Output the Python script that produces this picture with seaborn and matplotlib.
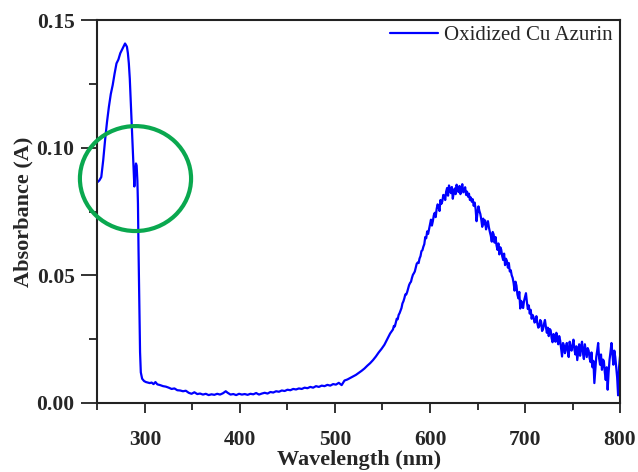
import matplotlib
matplotlib.use("Agg")
import matplotlib.pyplot as plt
from matplotlib.ticker import MultipleLocator, FormatStrFormatter
from matplotlib.patches import Ellipse
import seaborn as sns
import pandas as pd

# UV band and baseline (250-558 nm)
wl_uv = [
    250, 252, 254, 256, 258, 260, 262, 264, 266, 268, 270, 272, 274, 276, 278, 279, 280, 281, 282, 283,
    284, 285, 286, 287, 288, 288.8, 289.5, 290.5, 291.2, 292, 292.6, 293.2, 294, 294.8, 295.6, 297, 299, 301,
    303, 305, 307, 309, 311, 313, 316, 319, 322, 325, 328, 331, 334, 337, 340, 343, 346, 349, 352, 355,
    358, 361, 364, 367, 370, 373, 376, 379, 382, 385, 387, 390, 393, 396, 399, 402, 405, 408, 411, 414,
    417, 420, 423, 426, 429, 432, 435, 438, 441, 444, 447, 450, 453, 456, 459, 462, 465, 468, 471, 474,
    477, 480, 483, 486, 489, 492, 495, 498, 501, 504, 507, 510, 513, 516, 519, 522, 525, 528, 531, 534,
    537, 540, 543, 546, 549, 552, 555, 558,
]
abs_uv = [
    0.0865, 0.0872, 0.0885, 0.0950, 0.1030, 0.1100, 0.1160, 0.1210, 0.1245, 0.1290, 0.1330, 0.1345, 0.1370, 0.1385, 0.1400, 0.1408, 0.1402, 0.1395, 0.1370, 0.1330,
    0.1270, 0.1180, 0.1080, 0.0990, 0.0920, 0.0848, 0.0900, 0.0938, 0.0930, 0.0870, 0.0780, 0.0600, 0.0400, 0.0200, 0.0120, 0.0095, 0.0086, 0.0082,
    0.0080, 0.0078, 0.0080, 0.0074, 0.0082, 0.0073, 0.0070, 0.0066, 0.0064, 0.0060, 0.0055, 0.0057, 0.0050, 0.0049, 0.0046, 0.0048, 0.0040, 0.0036, 0.0042, 0.0035,
    0.0037, 0.0033, 0.0036, 0.0031, 0.0034, 0.0032, 0.0036, 0.0033, 0.0038, 0.0046, 0.0040, 0.0033, 0.0035, 0.0031, 0.0036, 0.0033, 0.0035, 0.0032, 0.0036, 0.0034,
    0.0039, 0.0033, 0.0037, 0.0040, 0.0037, 0.0043, 0.0041, 0.0046, 0.0044, 0.0049, 0.0047, 0.0052, 0.0050, 0.0055, 0.0053, 0.0057, 0.0055, 0.0060, 0.0058, 0.0063,
    0.0060, 0.0066, 0.0063, 0.0068, 0.0066, 0.0071, 0.0068, 0.0074, 0.0072, 0.0079, 0.0070, 0.0088, 0.0092, 0.0098, 0.0104, 0.0110, 0.0118, 0.0126, 0.0135, 0.0146,
    0.0156, 0.0168, 0.0182, 0.0198, 0.0212, 0.0228, 0.0250, 0.0272,
]

# Visible Cu band (561-800 nm, 1 nm steps)
wl_vis = [
    561, 562, 563, 564, 565, 566, 567, 568, 569, 570, 571, 572, 573, 574, 575, 576, 577, 578, 579, 580,
    581, 582, 583, 584, 585, 586, 587, 588, 589, 590, 591, 592, 593, 594, 595, 596, 597, 598, 599, 600,
    601, 602, 603, 604, 605, 606, 607, 608, 609, 610, 611, 612, 613, 614, 615, 616, 617, 618, 619, 620,
    621, 622, 623, 624, 625, 626, 627, 628, 629, 630, 631, 632, 633, 634, 635, 636, 637, 638, 639, 640,
    641, 642, 643, 644, 645, 646, 647, 648, 649, 650, 651, 652, 653, 654, 655, 656, 657, 658, 659, 660,
    661, 662, 663, 664, 665, 666, 667, 668, 669, 670, 671, 672, 673, 674, 675, 676, 677, 678, 679, 680,
    681, 682, 683, 684, 685, 686, 687, 688, 689, 690, 691, 692, 693, 694, 695, 696, 697, 698, 699, 700,
    701, 702, 703, 704, 705, 706, 707, 708, 709, 710, 711, 712, 713, 714, 715, 716, 717, 718, 719, 720,
    721, 722, 723, 724, 725, 726, 727, 728, 729, 730, 731, 732, 733, 734, 735, 736, 737, 738, 739, 740,
    741, 742, 743, 744, 745, 746, 747, 748, 749, 750, 751, 752, 753, 754, 755, 756, 757, 758, 759, 760,
    761, 762, 763, 764, 765, 766, 767, 768, 769, 770, 771, 772, 773, 774, 775, 776, 777, 778, 779, 780,
    781, 782, 783, 784, 785, 786, 787, 788, 789, 790, 791, 792, 793, 794, 795, 796, 797, 798, 799, 800,
]
abs_vis = [
    0.0288, 0.0302, 0.0300, 0.0315, 0.0330, 0.0328, 0.0345, 0.0352, 0.0362, 0.0372, 0.0390, 0.0398, 0.0410, 0.0425, 0.0425, 0.0435, 0.0448, 0.0462, 0.0470, 0.0475,
    0.0490, 0.0502, 0.0508, 0.0515, 0.0530, 0.0545, 0.0550, 0.0548, 0.0566, 0.0575, 0.0595, 0.0598, 0.0612, 0.0622, 0.0650, 0.0645, 0.0672, 0.0662, 0.0680, 0.0700,
    0.0718, 0.0695, 0.0712, 0.0735, 0.0745, 0.0728, 0.0760, 0.0778, 0.0770, 0.0752, 0.0795, 0.0780, 0.0790, 0.0815, 0.0812, 0.0795, 0.0828, 0.0842, 0.0812, 0.0852,
    0.0838, 0.0822, 0.0846, 0.0800, 0.0825, 0.0840, 0.0818, 0.0855, 0.0835, 0.0826, 0.0850, 0.0818, 0.0840, 0.0857, 0.0825, 0.0832, 0.0845, 0.0815, 0.0828, 0.0808,
    0.0820, 0.0795, 0.0805, 0.0788, 0.0798, 0.0772, 0.0785, 0.0760, 0.0712, 0.0745, 0.0770, 0.0752, 0.0740, 0.0718, 0.0690, 0.0722, 0.0700, 0.0715, 0.0680, 0.0698,
    0.0712, 0.0688, 0.0670, 0.0655, 0.0632, 0.0670, 0.0660, 0.0628, 0.0650, 0.0618, 0.0600, 0.0625, 0.0582, 0.0610, 0.0600, 0.0575, 0.0560, 0.0585, 0.0540, 0.0565,
    0.0556, 0.0530, 0.0548, 0.0515, 0.0520, 0.0500, 0.0490, 0.0470, 0.0440, 0.0475, 0.0460, 0.0425, 0.0410, 0.0435, 0.0370, 0.0400, 0.0385, 0.0372, 0.0400, 0.0415,
    0.0430, 0.0395, 0.0368, 0.0382, 0.0350, 0.0365, 0.0330, 0.0345, 0.0336, 0.0315, 0.0320, 0.0340, 0.0312, 0.0295, 0.0300, 0.0325, 0.0318, 0.0282, 0.0290, 0.0310,
    0.0325, 0.0298, 0.0275, 0.0295, 0.0262, 0.0290, 0.0285, 0.0255, 0.0238, 0.0270, 0.0265, 0.0240, 0.0275, 0.0250, 0.0230, 0.0262, 0.0245, 0.0215, 0.0182, 0.0235,
    0.0225, 0.0195, 0.0218, 0.0235, 0.0202, 0.0180, 0.0240, 0.0215, 0.0205, 0.0228, 0.0248, 0.0210, 0.0190, 0.0222, 0.0168, 0.0200, 0.0230, 0.0185, 0.0220, 0.0240,
    0.0195, 0.0172, 0.0230, 0.0205, 0.0180, 0.0215, 0.0205, 0.0175, 0.0160, 0.0198, 0.0140, 0.0165, 0.0078, 0.0130, 0.0180, 0.0205, 0.0235, 0.0175, 0.0150, 0.0190,
    0.0130, 0.0170, 0.0165, 0.0120, 0.0090, 0.0140, 0.0052, 0.0120, 0.0170, 0.0200, 0.0235, 0.0190, 0.0150, 0.0205, 0.0180, 0.0140, 0.0100, 0.0030, 0.0140, 0.0182,
]

series_label = "Oxidized Cu Azurin"
x_label = "Wavelength (nm)"
y_label = "Absorbance (A)"

df = pd.DataFrame({"wavelength": wl_uv + wl_vis, "absorbance": abs_uv + abs_vis})

sns.set_style("ticks")
plt.rcParams["font.family"] = ["Liberation Serif", "DejaVu Serif"]

fig = plt.figure(figsize=(6.38, 4.72), dpi=100)
ax = fig.add_axes([0.1528, 0.1462, 0.8190, 0.8114])

sns.lineplot(data=df, x="wavelength", y="absorbance", ax=ax, color="#0000ff",
             linewidth=1.6, estimator=None, sort=False, label=series_label)

ax.set_xlim(250, 800)
ax.set_ylim(0, 0.15)
ax.xaxis.set_major_locator(MultipleLocator(100))
ax.xaxis.set_minor_locator(MultipleLocator(50))
ax.yaxis.set_major_locator(MultipleLocator(0.05))
ax.yaxis.set_minor_locator(MultipleLocator(0.025))
ax.yaxis.set_major_formatter(FormatStrFormatter("%.2f"))

for s in ax.spines.values():
    s.set_visible(True)
    s.set_linewidth(1.5)
    s.set_color("#222222")

ax.tick_params(axis="x", which="major", direction="out", length=7.5, width=1.3,
               color="#222222", pad=12, labelsize=15.5)
ax.tick_params(axis="x", which="minor", direction="out", length=5, width=1.3, color="#222222")
ax.tick_params(axis="y", which="major", direction="out", length=11.5, width=1.3,
               color="#222222", pad=5, labelsize=15.5)
ax.tick_params(axis="y", which="minor", direction="out", length=5.8, width=1.3, color="#222222")
for lab in ax.get_xticklabels() + ax.get_yticklabels():
    lab.set_fontweight("bold")

ax.set_xlabel(x_label, fontsize=16, fontweight="bold", labelpad=0)
ax.set_ylabel(y_label, fontsize=16, fontweight="bold", labelpad=2)

leg = ax.legend(loc="upper right", bbox_to_anchor=(0.985, 0.985), frameon=False,
                fontsize=15, handlelength=2.3, handletextpad=0.25,
                borderpad=0, borderaxespad=0)

circle = Ellipse((290, 0.0879), width=117, height=0.0411, fill=False,
                 edgecolor="#0aa84f", linewidth=3.0, clip_on=False, zorder=10)
ax.add_patch(circle)

fig.savefig("out.png", dpi=100)
